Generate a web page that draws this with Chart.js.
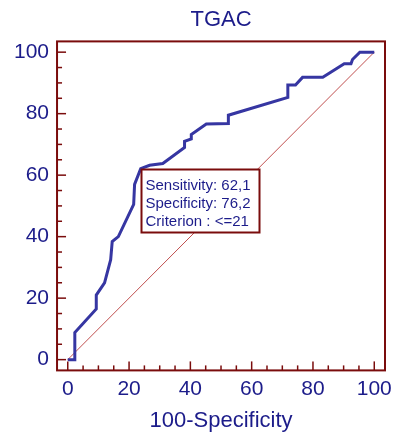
<!DOCTYPE html>
<html>
<head>
<meta charset="utf-8">
<script src="https://cdn.jsdelivr.net/npm/chart.js@4.4.0/dist/chart.umd.min.js"></script>
<style>
  html, body { margin: 0; padding: 0; background: #ffffff; }
  canvas { display: block; }
</style>
</head>
<body>
<canvas id="rocChart" width="394" height="435"></canvas>
<script>
// ROC-кривая: 100-Specificity по X, Sensitivity по Y
const fprValues  = [0, 2.3, 2.3, 9.3, 9.3, 12, 14, 14.5, 16.5, 21.5, 21.8, 23.8, 26.7, 31, 38.1, 38.1, 40.3, 40.3, 45.2, 52.4, 52.4, 71.8, 71.8, 74.3, 76.6, 83.2, 90.2, 92.4, 92.9, 95.3, 100];
const sensValues = [0, 0, 8.8, 16.5, 21, 25, 32.5, 38.4, 40, 50.5, 57, 62.1, 63.2, 63.8, 69, 71, 71.8, 73.2, 76.6, 76.8, 79.5, 85.3, 89.3, 89.3, 91.8, 91.8, 96.2, 96.2, 97.6, 100, 100];

// диагональ
const refX = [0, 100];
const refY = [0, 100];

// подписи осей
const tickValues = [0, 20, 40, 60, 80, 100];
const minorTicks = [0, 5, 10, 15, 20, 25, 30, 35, 40, 45, 50, 55, 60, 65, 70, 75, 80, 85, 90, 95, 100];

// точка отсечения и текст подсказки
const cutPoint = { x: 23.8, y: 62.1 };
const boxLines = ['Sensitivity: 62,1', 'Specificity: 76,2', 'Criterion : <=21'];

const navy = '#1c1c8a';
const frameRed = '#7a0c0c';
const fontFamily = "'Liberation Sans', Arial, sans-serif";

// рамка, засечки внутрь и подпись
const framePlugin = {
    id: 'frame',
    afterDatasetsDraw(chart) {
        const { ctx, chartArea, scales } = chart;
        ctx.save();

        // прямоугольник с подписью
        const bx = Math.round(scales.x.getPixelForValue(cutPoint.x)) + 0.5;
        const by = Math.round(scales.y.getPixelForValue(cutPoint.y)) + 0.5;
        ctx.fillStyle = '#ffffff';
        ctx.fillRect(bx, by, 118, 63);
        ctx.strokeStyle = frameRed;
        ctx.lineWidth = 2;
        ctx.strokeRect(bx, by, 118, 63);
        ctx.fillStyle = navy;
        ctx.font = '15px ' + fontFamily;
        ctx.textBaseline = 'alphabetic';
        boxLines.forEach((line, i) => {
            ctx.fillText(line, bx + 4, by + 20 + i * 18);
        });

        // засечки
        ctx.strokeStyle = frameRed;
        ctx.lineWidth = 1.5;
        minorTicks.forEach(v => {
            const len = (v % 20 === 0) ? 9 : 5;
            const px = scales.x.getPixelForValue(v);
            ctx.beginPath();
            ctx.moveTo(px, chartArea.bottom);
            ctx.lineTo(px, chartArea.bottom - len);
            ctx.stroke();
            const py = scales.y.getPixelForValue(v);
            ctx.beginPath();
            ctx.moveTo(chartArea.left, py);
            ctx.lineTo(chartArea.left + len, py);
            ctx.stroke();
        });

        // рамка
        ctx.lineWidth = 2;
        ctx.strokeRect(chartArea.left, chartArea.top, chartArea.right - chartArea.left, chartArea.bottom - chartArea.top);
        ctx.restore();
    }
};

document.addEventListener('DOMContentLoaded', function() {
    const ctx = document.getElementById('rocChart').getContext('2d');

    const rocChart = new Chart(ctx, {
        type: 'scatter',
        data: {
            datasets: [
                {
                    label: 'Diagonal',
                    data: refX.map((x, i) => ({ x: x, y: refY[i] })),
                    showLine: true,
                    borderColor: 'rgba(185, 60, 60, 0.9)',
                    borderWidth: 1,
                    pointRadius: 0,
                    order: 2
                },
                {
                    label: 'TGAC',
                    data: fprValues.map((x, i) => ({ x: x, y: sensValues[i] })),
                    showLine: true,
                    borderColor: '#3636a2',
                    borderWidth: 3,
                    pointRadius: 0,
                    order: 1
                }
            ]
        },
        options: {
            responsive: false,
            animation: false,
            devicePixelRatio: 1,
            layout: {
                padding: { left: 6, right: 9, top: 0, bottom: 1 }
            },
            plugins: {
                legend: { display: false },
                tooltip: { enabled: false },
                title: {
                    display: true,
                    text: 'TGAC',
                    fullSize: false,
                    color: navy,
                    font: { family: fontFamily, size: 22, weight: 'normal' },
                    padding: { top: 6.5, bottom: 8.5 }
                }
            },
            scales: {
                x: {
                    type: 'linear',
                    min: -3.5,
                    max: 103.5,
                    afterBuildTicks: axis => { axis.ticks = tickValues.map(v => ({ value: v })); },
                    afterFit: axis => { axis.paddingRight = 0; },
                    grid: { display: false, drawTicks: false },
                    border: { display: false },
                    ticks: {
                        color: navy,
                        padding: 6,
                        font: { family: fontFamily, size: 21 }
                    },
                    title: {
                        display: true,
                        text: '100-Specificity',
                        color: navy,
                        font: { family: fontFamily, size: 22 },
                        padding: { top: 0, bottom: 0 }
                    }
                },
                y: {
                    type: 'linear',
                    min: -3.5,
                    max: 103.5,
                    afterBuildTicks: axis => { axis.ticks = tickValues.map(v => ({ value: v })); },
                    grid: { display: false, drawTicks: false },
                    border: { display: false },
                    ticks: {
                        color: navy,
                        padding: 8,
                        font: { family: fontFamily, size: 21 }
                    }
                }
            }
        },
        plugins: [framePlugin]
    });
});
</script>
</body>
</html>
